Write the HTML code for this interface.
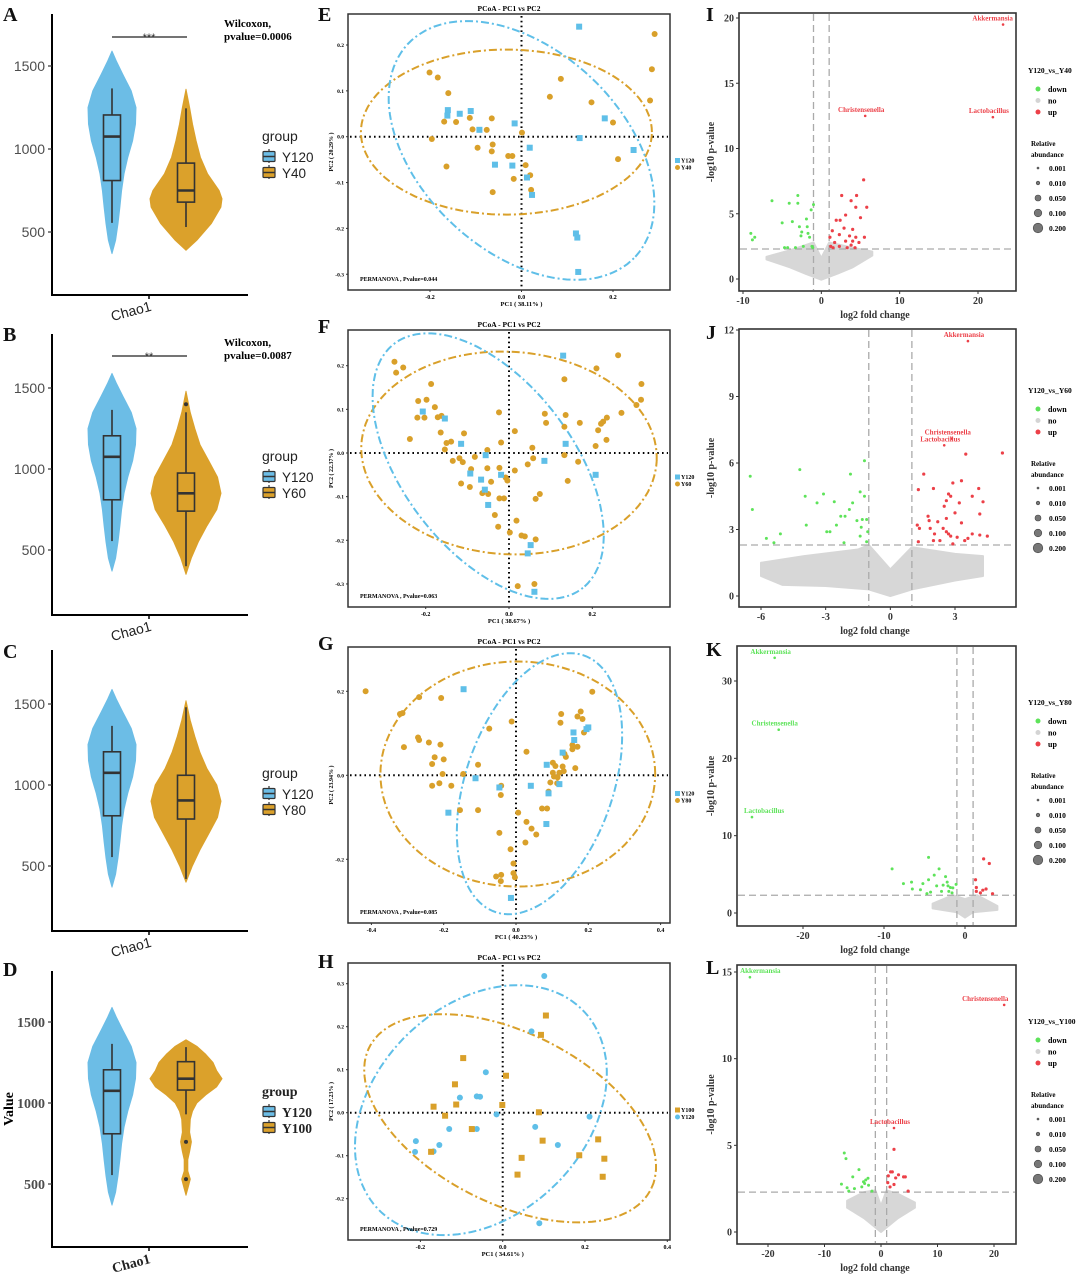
<!DOCTYPE html>
<html><head><meta charset="utf-8"><style>
html,body{margin:0;padding:0;background:#fff;}
svg{display:block;}
</style></head><body>
<svg id="fig" width="1080" height="1277" viewBox="0 0 1080 1277" xmlns="http://www.w3.org/2000/svg"></svg>
<script>
// ===================== DATA =====================
const violinRowTicks = [500, 1000, 1500];
const blueVals = [370,450,550,650,750,850,950,1050,1150,1250,1350,1450,1530,1590];
const blueDens = [0,0.15,0.25,0.33,0.4,0.5,0.66,0.86,0.98,1.0,0.8,0.45,0.18,0];
const blueBox = [555, 810, 1075, 1205, 1365];
const y40Vals = [390,450,550,650,700,750,850,950,1050,1150,1250,1360];
const y40Dens = [0,0.3,0.7,0.97,1,0.92,0.6,0.4,0.28,0.18,0.1,0];
const y40Box = [530, 680, 750, 915, 1245];
const y60Vals = [350,450,550,650,750,850,950,1050,1150,1250,1350,1480];
const y60Dens = [0,0.15,0.35,0.6,0.88,1,0.9,0.65,0.4,0.25,0.12,0];
const y60Box = [400, 740, 850, 975, 1350];
const y60Out = [1400];
const y80Vals = [400,500,600,700,800,900,1000,1100,1200,1300,1400,1520];
const y80Dens = [0,0.18,0.4,0.65,0.9,1,0.88,0.6,0.4,0.25,0.12,0];
const y80Box = [420, 790, 905, 1060, 1480];
const y100Vals = [430,480,530,580,650,700,760,820,900,950,1000,1050,1100,1150,1200,1250,1300,1350,1390];
const y100Dens = [0,0.06,0.12,0.05,0.05,0.1,0.15,0.1,0.12,0.18,0.3,0.55,0.85,1,0.85,0.75,0.55,0.3,0];
const y100Box = [930, 1080, 1150, 1255, 1345];
const y100Out = [760, 530];

const eBlueX = [0.126,-0.161,-0.162,-0.135,-0.111,-0.092,-0.015,0.018,-0.058,-0.02,0.012,0.023,0.127,0.182,0.245,0.119,0.122,0.124];
const eBlueY = [0.24,0.058,0.046,0.05,0.056,0.015,0.029,-0.024,-0.061,-0.063,-0.089,-0.127,-0.003,0.04,-0.029,-0.211,-0.22,-0.295];
const eOrX = [0.291,0.285,0.281,-0.201,-0.183,-0.16,0.062,0.086,0.153,0.2,0.211,-0.169,-0.143,-0.113,-0.107,-0.076,-0.065,-0.196,-0.096,-0.063,-0.065,-0.029,-0.02,-0.164,-0.063,-0.017,0.001,0.009,0.019,0.021];
const eOrY = [0.224,0.147,0.079,0.14,0.129,0.095,0.087,0.126,0.075,0.031,-0.049,0.033,0.032,0.041,0.016,0.015,0.04,-0.005,-0.024,-0.017,-0.032,-0.042,-0.042,-0.065,-0.121,-0.092,0.009,-0.062,-0.084,-0.116];
const fBlueX = [0.130,-0.207,-0.154,-0.115,-0.056,-0.093,-0.067,-0.058,-0.050,-0.019,0.085,0.136,0.208,0.052,0.045,0.061];
const fBlueY = [0.223,0.095,0.079,0.021,-0.005,-0.047,-0.061,-0.084,-0.119,-0.050,-0.018,0.021,-0.050,-0.211,-0.230,-0.318];
const fOrX = [-0.275,-0.254,-0.271,-0.187,0.262,0.210,0.133,0.318,-0.218,-0.198,0.317,0.306,0.270,-0.178,-0.22,-0.203,-0.171,-0.162,-0.024,0.086,0.136,0.089,0.133,0.170,0.214,0.221,0.226,0.235,0.014,-0.164,-0.108,-0.238,-0.150,-0.139,-0.019,-0.154,-0.052,0.056,0.234,0.208,-0.135,-0.119,-0.111,-0.082,-0.052,0.045,0.058,0.133,0.166,-0.091,-0.023,-0.008,-0.004,0.014,-0.043,0.141,-0.115,-0.094,-0.064,-0.050,-0.023,-0.012,0.074,0.064,-0.034,0.018,-0.026,0.002,0.030,0.038,0.064,0.021,0.061];
const fOrY = [0.209,0.196,0.184,0.158,0.224,0.194,0.169,0.158,0.119,0.122,0.122,0.110,0.092,0.105,0.081,0.081,0.082,0.085,0.093,0.090,0.087,0.069,0.060,0.069,0.052,0.067,0.072,0.081,0.050,0.047,0.045,0.032,0.023,0.026,0.024,0.008,0.007,0.012,0.030,0.016,-0.018,-0.012,-0.021,-0.009,-0.035,-0.026,-0.012,-0.005,-0.020,-0.037,-0.034,-0.056,-0.063,-0.040,-0.066,-0.064,-0.070,-0.078,-0.092,-0.094,-0.104,-0.104,-0.094,-0.105,-0.142,-0.155,-0.169,-0.182,-0.189,-0.191,-0.198,-0.305,-0.300];
const gBlueX = [-0.145,-0.112,-0.187,-0.046,0.041,0.085,0.090,0.084,0.120,0.129,0.159,0.161,0.195,0.2,-0.014];
const gBlueY = [0.205,-0.007,-0.089,-0.029,-0.025,0.025,-0.043,-0.116,-0.021,0.054,0.102,0.084,0.110,0.114,-0.292];
const gOrX = [-0.416,-0.268,-0.207,-0.321,-0.314,-0.074,-0.012,-0.271,-0.268,-0.241,-0.209,-0.310,-0.225,-0.200,-0.232,-0.105,-0.203,-0.146,-0.232,-0.212,-0.179,-0.041,-0.042,-0.155,-0.105,0.006,-0.046,0.029,0.043,0.056,0.026,-0.015,-0.007,-0.055,-0.041,-0.042,-0.007,-0.003,0.125,0.123,0.170,0.179,0.184,0.188,0.156,0.156,0.170,0.134,0.138,0.102,0.129,0.102,0.120,0.164,0.095,0.114,0.105,0.090,0.072,0.086,0.211,0.029,0.109,0.115,0.132];
const gOrY = [0.2,0.186,0.184,0.146,0.148,0.111,0.128,0.090,0.084,0.078,0.073,0.067,0.043,0.038,0.027,0.025,0.003,0.003,-0.025,-0.019,-0.025,-0.025,-0.047,-0.083,-0.083,-0.089,-0.137,-0.111,-0.127,-0.141,-0.160,-0.176,-0.210,-0.241,-0.237,-0.252,-0.233,-0.243,0.146,0.125,0.140,0.152,0.134,0.102,0.072,0.062,0.068,0.051,0.044,0.030,0.021,0.006,0.006,0.017,-0.017,-0.019,-0.003,-0.039,-0.079,-0.079,0.199,0.056,0.022,-0.005,0.010];
const hBlueX = [0.101,0.070,-0.041,-0.104,-0.063,-0.055,-0.015,-0.130,-0.063,-0.211,-0.213,-0.168,-0.154,0.079,0.134,0.211,0.089];
const hBlueY = [0.318,0.189,0.094,0.035,0.038,0.037,-0.004,-0.038,-0.038,-0.066,-0.091,-0.090,-0.075,-0.033,-0.075,-0.009,-0.257];
const hOrX = [0.105,0.093,-0.096,0.008,-0.116,-0.113,-0.001,-0.168,-0.140,-0.075,0.088,0.097,0.046,0.036,0.232,0.186,0.247,0.243,-0.174];
const hOrY = [0.226,0.181,0.127,0.086,0.066,0.019,0.018,0.014,-0.007,-0.038,0.001,-0.065,-0.105,-0.144,-0.062,-0.099,-0.107,-0.149,-0.091];

const iDownX = [-9,-8.8,-8.5,-6.3,-5,-4.7,-4.1,-3.7,-3,-3,-2.8,-2.6,-2.5,-1.9,-1.8,-1.7,-1.5,-1.3,-1.2,-1,-1.1,-2.3,-3.3,-4.3];
const iDownY = [3.5,3,3.2,6,4.3,2.4,5.8,4.4,6.4,5.8,4,3.3,3.6,4.6,4,3.5,3.2,5.3,2.5,5.7,2.4,2.5,2.4,2.4];
const iUpX = [2.6,5.4,4.5,3.8,4.4,5.8,3.1,2.4,1.9,5.0,2.9,4.0,1.4,1.1,2.3,3.6,4.4,5.5,1.7,3.1,4.0,1.2,1.5,2.3,3.3,4.3,4.8,3.8];
const iUpY = [6.4,7.6,6.4,6.0,5.5,5.5,4.9,4.5,4.5,4.7,3.9,3.8,3.7,3.2,3.4,3.3,3.2,3.2,2.8,2.9,2.9,2.5,2.4,2.5,2.4,2.4,2.8,2.6];
const iLabelNames = ["Akkermansia","Christensenella","Lactobacillus"];
const iLabelX = [23.2, 5.6, 21.9];
const iLabelY = [19.5, 12.5, 12.4];
const iCloudX = [-7,-4,-1,0,1,4,6.5,6.5,4,2,0,-2,-4,-7];
const iCloudY = [1.7,2.2,2.8,1.6,2.8,2.4,2.1,1.8,0.9,0.4,-0.05,0.4,0.9,1.5];
const jDownX = [-6.5,-6.4,-5.75,-5.1,-5.4,-4.2,-3.95,-3.9,-3.4,-3.1,-2.95,-2.8,-2.6,-2.5,-2.3,-2.1,-2.15,-1.9,-1.85,-1.75,-1.55,-1.4,-1.4,-1.3,-1.2,-1.2,-1.1,-1.05,-1.35,-1.1];
const jDownY = [5.4,3.9,2.6,2.8,2.4,5.7,4.5,3.2,4.2,4.6,2.9,2.9,4.25,3.2,3.6,3.6,2.4,3.9,5.5,4.2,3.4,4.7,2.7,3.45,4.5,6.1,3.45,2.9,3.1,2.45];
const jUpX = [5.2,3.5,1.55,1.3,2.0,2.9,3.3,4.1,2.7,2.8,2.6,2.5,3.2,3.8,4.3,1.75,1.8,2.2,3.0,2.6,3.3,4.15,1.25,1.35,1.85,2.05,2.45,2.6,2.7,2.8,3.1,3.45,3.6,3.8,4.15,4.5,2.0,2.3,2.9,1.3];
const jUpY = [6.45,6.4,5.5,4.8,4.85,5.1,5.2,4.85,4.6,4.5,4.3,4.05,4.2,4.5,4.25,3.6,3.4,3.35,3.75,3.5,3.3,3.7,3.2,3.05,3.05,2.8,3.05,2.9,2.8,2.7,2.65,2.5,2.6,2.8,2.75,2.7,2.5,2.5,2.35,2.45];
const jLabelNames = ["Akkermansia","Christensenella","Lactobacillus"];
const jLabelX = [3.6, 2.85, 2.5];
const jLabelY = [11.5, 7.1, 6.8];
const jCloudX = [-6,-4,-1.5,-1,0,1,3,4.3,4.3,3,1,0,-1,-3,-5,-6];
const jCloudY = [1.5,1.8,2.1,2.3,1.2,2.2,1.9,1.8,0.9,0.7,0.3,0,0.3,0.45,0.5,0.9];
const kDownX = [-9,-7.6,-6.6,-6.5,-5.5,-5.2,-4.5,-4.5,-3.8,-3.2,-4.25,-3.5,-2.7,-2.4,-2.2,-2.1,-2.0,-1.8,-1.5,-1.1,-4.7,-2.9,-1.6];
const kDownY = [5.7,3.8,4.0,3.1,3.0,3.8,7.2,4.3,4.9,5.7,2.7,3.5,3.6,4.7,4.0,3.5,2.8,3.3,3.25,3.7,2.5,2.8,2.6];
const kUpX = [1.4,1.4,1.3,2.3,3.0,2.2,2.6,3.4,1.9];
const kUpY = [3.3,2.8,4.3,7.0,6.4,2.95,3.1,2.5,2.6];
const kLabelNames = ["Akkermansia","Christensenella","Lactobacillus"];
const kLabelX = [-23.5, -23, -26.3];
const kLabelY = [33, 23.7, 12.4];
const kCloudX = [-4,-1.5,0,1.5,4,4,1,0,-1,-4];
const kCloudY = [1.2,2.3,1.8,2.3,0.9,0.4,0.1,-0.6,0.1,0.6];
const lDownX = [-6.5,-6.2,-3.9,-5.0,-7.0,-6.0,-5.7,-4.7,-3.4,-3.1,-2.7,-2.3,-2.9,-2.2,-1.6];
const lDownY = [4.56,4.23,3.6,3.18,2.76,2.55,2.36,2.5,2.6,2.9,3.0,3.1,2.8,2.7,2.36];
const lUpX = [2.3,1.3,1.7,2.0,2.6,3.1,4.0,4.3,1.2,1.6,2.3,4.8];
const lUpY = [4.77,3.24,3.47,3.47,3.12,3.3,3.18,3.18,2.85,2.6,2.74,2.36];
const lLabelNames = ["Akkermansia","Christensenella","Lactobacillus"];
const lLabelX = [-23.2, 21.8, 2.3];
const lLabelY = [14.7, 13.1, 6.0];
const lCloudX = [-6,-3,-1,0,1,3,6,6,3,0,-3,-6];
const lCloudY = [1.8,2.3,2.4,1.5,2.4,2.2,1.7,1.4,0.8,0,0.8,1.4];

// ===================== DRAWING =====================
const NS = "http://www.w3.org/2000/svg";
const svg = document.getElementById('fig');
function el(tag, attrs, parent, text){
  const e = document.createElementNS(NS, tag);
  for (const k in attrs) e.setAttribute(k, attrs[k]);
  if (text !== undefined) e.textContent = text;
  (parent || svg).appendChild(e);
  return e;
}
function lin(v1,p1,v2,p2){ return v => p1 + (v - v1) * (p2 - p1) / (v2 - v1); }
const SERIF = '"Liberation Serif", serif';
const SANS = '"Liberation Sans", sans-serif';
const BLUE = '#6cbde6', ORANGE = '#dba12b';

const letters = [["A",3,21],["B",3,341],["C",3,658],["D",3,976],["E",318,21],["F",318,333],["G",318,650],["H",318,968],["I",706,21],["J",706,339],["K",706,656],["L",706,974]];
letters.forEach(L=>{
  const t = el('text',{x:L[1],y:L[2],'font-family':SERIF,'font-size':20,'font-weight':'bold',fill:'#111'},svg,L[0]);
  
  
});

function violinPanel(cfg){
  const g = el('g',{});
  
  
  const y = lin(1000, cfg.y1000, 1500, cfg.y1500);
  const tickFont = cfg.serif ? SERIF : SANS;
  const ax = el('path',{d:`M52,${cfg.top} L52,${cfg.bottom} L248,${cfg.bottom}`,fill:'none',stroke:'#000','stroke-width':2},g);
  
  
  el('line',{x1:149,x2:149,y1:cfg.bottom,y2:cfg.bottom+4,stroke:'#000','stroke-width':1.5},g);
  violinRowTicks.forEach(v=>{
    el('line',{x1:48,x2:52,y1:y(v),y2:y(v),stroke:'#333','stroke-width':1.2},g);
    const t = el('text',{x:45,y:y(v)+5,'text-anchor':'end','font-family':tickFont,'font-size':14,'font-weight':cfg.serif?'bold':'normal',fill:'#4d4d4d'},g,String(v));
    
    
  });
  const xl = el('text',{x:131,y:cfg.bottom+21,'text-anchor':'middle','font-family':tickFont,'font-size':14,'font-weight':cfg.serif?'bold':'normal',fill:'#222',transform:`rotate(-15 131 ${cfg.bottom+16})`},g,'Chao1');
  
  
  if (cfg.ylab){
    const yl = el('text',{x:13,y:(cfg.top+cfg.bottom)/2,'text-anchor':'middle','font-family':SERIF,'font-size':14,'font-weight':'bold',transform:`rotate(-90 13 ${(cfg.top+cfg.bottom)/2})`},g,'Value');
    
    
  }
  cfg.violins.forEach(vi=>{
    const left=[], right=[];
    vi.vals.forEach((v,i)=>{ const w = vi.dens[i]*vi.maxHalf; left.push([vi.cx-w,y(v)]); right.push([vi.cx+w,y(v)]); });
    const pts = right.concat(left.reverse());
    const p = el('path',{d:'M'+pts.map(p=>p[0].toFixed(1)+','+p[1].toFixed(1)).join(' L')+' Z',fill:vi.color,stroke:vi.color,'stroke-width':1,'stroke-linejoin':'round'},g);
    
    
    const b = vi.box, bw = 8.5;
    el('line',{x1:vi.cx,x2:vi.cx,y1:y(b[0]),y2:y(b[1]),stroke:'#333','stroke-width':1.6},g);
    el('line',{x1:vi.cx,x2:vi.cx,y1:y(b[3]),y2:y(b[4]),stroke:'#333','stroke-width':1.6},g);
    const r = el('rect',{x:vi.cx-bw,y:y(b[3]),width:bw*2,height:y(b[1])-y(b[3]),fill:'none',stroke:'#333','stroke-width':1.6},g);
    
    
    el('line',{x1:vi.cx-bw,x2:vi.cx+bw,y1:y(b[2]),y2:y(b[2]),stroke:'#333','stroke-width':2.6},g);
    (vi.out||[]).forEach(o=>{
      const c = el('circle',{cx:vi.cx,cy:y(o),r:2,fill:'#333'},g);
      
      
    });
  });
  if (cfg.sig){
    el('line',{x1:112,x2:187,y1:cfg.sigY,y2:cfg.sigY,stroke:'#222','stroke-width':1.3},g);
    const s = el('text',{x:149,y:cfg.sigY+4,'text-anchor':'middle','font-family':SANS,'font-size':11,fill:'#333'},g,cfg.sig);
    
    
    const w1 = el('text',{x:224,y:cfg.sigY-10,'font-family':SERIF,'font-size':11,'font-weight':'bold'},g,'Wilcoxon,');
    
    
    const w2 = el('text',{x:224,y:cfg.sigY+3,'font-family':SERIF,'font-size':11,'font-weight':'bold'},g,cfg.pval);
    
    
  }
  const lg = el('g',{},g);
  
  
  const ly = cfg.legY;
  el('text',{x:262,y:ly,'font-family':cfg.serif?SERIF:SANS,'font-size':14,'font-weight':cfg.serif?'bold':'normal',fill:'#222'},lg,'group');
  cfg.violins.forEach((vi,i)=>{
    const yy = ly+9+i*16;
    const e = el('g',{},lg);
    
    
    el('line',{x1:269,x2:269,y1:yy-1,y2:yy+13,stroke:'#333','stroke-width':1.2},e);
    el('rect',{x:263,y:yy+1.5,width:12,height:10,fill:vi.color,stroke:'#333','stroke-width':1.2,rx:1},e);
    el('line',{x1:263,x2:275,y1:yy+6.5,y2:yy+6.5,stroke:'#333','stroke-width':1.5},e);
    el('text',{x:282,y:yy+12,'font-family':cfg.serif?SERIF:SANS,'font-size':13.5,'font-weight':cfg.serif?'bold':'normal',fill:'#222'},e,vi.label);
  });
}
const blueV = ()=>({cx:112,vals:blueVals,dens:blueDens,box:blueBox,maxHalf:24,color:BLUE,label:'Y120'});
violinPanel({name:'violin-panel-a',top:14,bottom:295,y1000:149,y1500:66,sig:'***',sigY:37,pval:'pvalue=0.0006',legY:141,
  violins:[blueV(),{cx:186,vals:y40Vals,dens:y40Dens,box:y40Box,maxHalf:36,color:ORANGE,label:'Y40'}]});
violinPanel({name:'violin-panel-b',top:334,bottom:615,y1000:469,y1500:388,sig:'**',sigY:356,pval:'pvalue=0.0087',legY:461,
  violins:[blueV(),{cx:186,vals:y60Vals,dens:y60Dens,box:y60Box,maxHalf:35,color:ORANGE,label:'Y60',out:y60Out}]});
violinPanel({name:'violin-panel-c',top:650,bottom:931,y1000:785,y1500:704,legY:778,
  violins:[blueV(),{cx:186,vals:y80Vals,dens:y80Dens,box:y80Box,maxHalf:35,color:ORANGE,label:'Y80'}]});
violinPanel({name:'violin-panel-d',top:971,bottom:1247,y1000:1103,y1500:1022,legY:1096,serif:true,ylab:true,
  violins:[blueV(),{cx:186,vals:y100Vals,dens:y100Dens,box:y100Box,maxHalf:36,color:ORANGE,label:'Y100',out:y100Out}]});

function ellipsePts(cx,cy,a,b,angDeg){
  const t = angDeg*Math.PI/180, pts=[];
  for(let i=0;i<=120;i++){ const u=i/120*2*Math.PI; const ex=a*Math.cos(u), ey=b*Math.sin(u);
    pts.push([cx+ex*Math.cos(t)-ey*Math.sin(t), cy+ex*Math.sin(t)+ey*Math.cos(t)]); }
  return pts;
}
function pcoaPanel(cfg){
  const g = el('g',{});
  
  
  const X = lin(0,cfg.x0,0.2,cfg.x2), Y = lin(0,cfg.y0,0.2,cfg.y2);
  const b = cfg.box;
  const f = el('rect',{x:b[0],y:b[2],width:b[1]-b[0],height:b[3]-b[2],fill:'#fff',stroke:'#333','stroke-width':1.5},g);
  
  
  const tt = el('text',{x:(b[0]+b[1])/2,y:b[2]-3,'text-anchor':'middle','font-family':SERIF,'font-size':7.5,'font-weight':'bold'},g,'PCoA - PC1 vs PC2');
  
  
  cfg.xt.forEach(v=>{
    el('line',{x1:X(v),x2:X(v),y1:b[3],y2:b[3]+2,stroke:'#333'},g);
    const t = el('text',{x:X(v),y:b[3]+9,'text-anchor':'middle','font-family':SERIF,'font-size':6,'font-weight':'bold'},g,v.toFixed(1));
    
    
  });
  cfg.yt.forEach(v=>{
    el('line',{x1:b[0]-2,x2:b[0],y1:Y(v),y2:Y(v),stroke:'#333'},g);
    const t = el('text',{x:b[0]-4,y:Y(v)+2,'text-anchor':'end','font-family':SERIF,'font-size':5.5,'font-weight':'bold'},g,v.toFixed(1));
    
    
  });
  const xl = el('text',{x:X(0),y:b[3]+16,'text-anchor':'middle','font-family':SERIF,'font-size':6.5,'font-weight':'bold'},g,cfg.xlab);
  
  
  const yc = (b[2]+b[3])/2;
  const yl = el('text',{x:b[0]-15,y:yc,'text-anchor':'middle','font-family':SERIF,'font-size':6,'font-weight':'bold',transform:`rotate(-90 ${b[0]-15} ${yc})`},g,cfg.ylab);
  
  
  el('line',{x1:X(0),x2:X(0),y1:b[2]+2,y2:b[3]-2,stroke:'#000','stroke-width':2,'stroke-dasharray':'1.6,3.2'},g);
  el('line',{x1:b[0]+2,x2:b[1]-2,y1:Y(0),y2:Y(0),stroke:'#000','stroke-width':2,'stroke-dasharray':'1.6,3.2'},g);
  cfg.groups.forEach(gr=>{
    const pts = ellipsePts(...gr.ell);
    const e = el('path',{d:'M'+pts.map(p=>X(p[0]).toFixed(1)+','+Y(p[1]).toFixed(1)).join(' L'),fill:'none',stroke:gr.color,'stroke-width':2,'stroke-dasharray':'8,3,2,3'},g);
    
    
  });
  cfg.groups.forEach(gr=>{
    gr.xs.forEach((xv,i)=>{
      let m;
      if (gr.shape==='sq') m = el('rect',{x:X(xv)-3,y:Y(gr.ys[i])-3,width:6,height:6,fill:gr.color},g);
      else m = el('circle',{cx:X(xv),cy:Y(gr.ys[i]),r:3,fill:gr.color},g);
      
      
    });
  });
  const pm = el('text',{x:b[0]+12,y:b[3]-9,'font-family':SERIF,'font-size':6,'font-weight':'bold'},g,cfg.perm);
  
  
  const lg = el('g',{},g);
  
  
  cfg.legend.forEach((gr,i)=>{
    const yy = yc+10+i*7;
    if (gr.shape==='sq') el('rect',{x:b[1]+5,y:yy-4,width:5,height:5,fill:gr.color},lg);
    else el('circle',{cx:b[1]+7.5,cy:yy-1.5,r:2.5,fill:gr.color},lg);
    el('text',{x:b[1]+11,y:yy+0.5,'font-family':SERIF,'font-size':6,'font-weight':'bold'},lg,gr.label);
  });
}
const yt6=[-0.3,-0.2,-0.1,0,0.1,0.2];
{
  const bl={label:'Y120',color:'#5fbfe8',shape:'sq',xs:eBlueX,ys:eBlueY,ell:[0,-0.03,0.34,0.22,-43]};
  const or={label:'Y40',color:'#d9a02a',shape:'ci',xs:eOrX,ys:eOrY,ell:[-0.033,0.01,0.318,0.18,0]};
  pcoaPanel({name:'pcoa-panel-e',box:[348,670,14,290],x0:521.5,x2:613,y0:136.7,y2:45,xt:[-0.2,0,0.2],yt:yt6,xlab:'PC1 ( 38.11% )',ylab:'PC2 ( 20.29% )',perm:'PERMANOVA , Pvalue=0.044',groups:[or,bl],legend:[bl,or]});
}
{
  const bl={label:'Y120',color:'#5fbfe8',shape:'sq',xs:fBlueX,ys:fBlueY,ell:[-0.05,-0.03,0.36,0.2,-50]};
  const or={label:'Y60',color:'#d9a02a',shape:'ci',xs:fOrX,ys:fOrY,ell:[0,0,0.355,0.232,-3]};
  pcoaPanel({name:'pcoa-panel-f',box:[348,670,330,607],x0:509,x2:592.3,y0:453,y2:365.7,xt:[-0.2,0,0.2],yt:yt6,xlab:'PC1 ( 38.67% )',ylab:'PC2 ( 22.37% )',perm:'PERMANOVA , Pvalue=0.063',groups:[or,bl],legend:[bl,or]});
}
{
  const bl={label:'Y120',color:'#5fbfe8',shape:'sq',xs:gBlueX,ys:gBlueY,ell:[0.065,-0.02,0.33,0.2,65]};
  const or={label:'Y80',color:'#d9a02a',shape:'ci',xs:gOrX,ys:gOrY,ell:[0.005,0.003,0.38,0.268,0]};
  pcoaPanel({name:'pcoa-panel-g',box:[348,670,647,923],x0:516,x2:588.3,y0:775.3,y2:691.3,xt:[-0.4,-0.2,0,0.2,0.4],yt:[-0.2,0,0.2],xlab:'PC1 ( 40.23% )',ylab:'PC2 ( 23.94% )',perm:'PERMANOVA , Pvalue=0.085',groups:[or,bl],legend:[bl,or]});
}
{
  const bl={label:'Y120',color:'#5fbfe8',shape:'ci',xs:hBlueX,ys:hBlueY,ell:[-0.053,0.006,0.34,0.25,40]};
  const or={label:'Y100',color:'#d9a02a',shape:'sq',xs:hOrX,ys:hOrY,ell:[0.018,-0.013,0.38,0.2,-25]};
  pcoaPanel({name:'pcoa-panel-h',box:[348,670,963,1240],x0:502.7,x2:585,y0:1112.7,y2:1026.7,xt:[-0.2,0,0.2,0.4],yt:[-0.2,-0.1,0,0.1,0.2,0.3],xlab:'PC1 ( 34.61% )',ylab:'PC2 ( 17.23% )',perm:'PERMANOVA , Pvalue=0.729',groups:[bl,or],legend:[or,bl]});
}

const GREEN='#5ee35a', RED='#ec4048', GREY='#d3d3d3';
function volcanoPanel(cfg){
  const g = el('g',{});
  
  
  const X = lin(cfg.xa[0],cfg.xa[1],cfg.xa[2],cfg.xa[3]);
  const Y = lin(cfg.ya[0],cfg.ya[1],cfg.ya[2],cfg.ya[3]);
  const b = cfg.box;
  const f = el('rect',{x:b[0],y:b[2],width:b[1]-b[0],height:b[3]-b[2],fill:'#fff',stroke:'#333','stroke-width':1.6},g);
  
  
  cfg.xt.forEach(v=>{
    el('line',{x1:X(v),x2:X(v),y1:b[3],y2:b[3]+3,stroke:'#333'},g);
    const t = el('text',{x:X(v),y:b[3]+13,'text-anchor':'middle','font-family':SERIF,'font-size':10,'font-weight':'bold',fill:'#333'},g,String(v));
    
    
  });
  cfg.yt.forEach(v=>{
    el('line',{x1:b[0]-3,x2:b[0],y1:Y(v),y2:Y(v),stroke:'#333'},g);
    const t = el('text',{x:b[0]-5,y:Y(v)+3.5,'text-anchor':'end','font-family':SERIF,'font-size':10,'font-weight':'bold',fill:'#333'},g,String(v));
    
    
  });
  const xl = el('text',{x:875,y:b[3]+27,'text-anchor':'middle','font-family':SERIF,'font-size':10,'font-weight':'bold',fill:'#333'},g,'log2 fold change');
  
  
  const yc=(b[2]+b[3])/2;
  const yl = el('text',{x:714,y:yc,'text-anchor':'middle','font-family':SERIF,'font-size':10,'font-weight':'bold',fill:'#333',transform:`rotate(-90 714 ${yc})`},g,'-log10 p-value');
  
  
  const cl = el('path',{d:'M'+cfg.cloudX.map((xv,i)=>X(xv).toFixed(1)+','+Y(cfg.cloudY[i]).toFixed(1)).join(' L')+' Z',fill:GREY,stroke:GREY,'stroke-width':2,'stroke-linejoin':'round',opacity:0.9},g);
  
  
  [-1,1].forEach(v=>el('line',{x1:X(v),x2:X(v),y1:b[2]+1,y2:b[3]-1,stroke:'#aaa','stroke-width':1.3,'stroke-dasharray':'7,4'},g));
  el('line',{x1:b[0]+1,x2:b[1]-1,y1:Y(2.3),y2:Y(2.3),stroke:'#aaa','stroke-width':1.3,'stroke-dasharray':'7,4'},g);
  cfg.downX.forEach((xv,i)=>{
    const c = el('circle',{cx:X(xv),cy:Y(cfg.downY[i]),r:1.5,fill:GREEN},g);
    
    
  });
  cfg.upX.forEach((xv,i)=>{
    const c = el('circle',{cx:X(xv),cy:Y(cfg.upY[i]),r:1.6,fill:RED},g);
    
    
  });
  cfg.labNames.forEach((n,i)=>{
    const px = X(cfg.labX[i]), py = Y(cfg.labY[i]);
    const col = cfg.labX[i] < 0 ? GREEN : RED;
    const c = el('circle',{cx:px,cy:py,r:1.3,fill:col},g);
    
    
    const w = n.length*3.7;
    const tx = Math.max(b[0]+3+w/2, Math.min(b[1]-3-w/2, px-4));
    const t = el('text',{x:tx,y:py-4,'text-anchor':'middle','font-family':SERIF,'font-size':7,'font-weight':'bold',fill:col},g,n);
    
    
  });
  const lg = el('g',{},g);
  
  
  const L = cfg.leg;
  el('text',{x:1028,y:L,'font-family':SERIF,'font-size':7.5,'font-weight':'bold'},lg,cfg.title);
  [['down',GREEN],['no','#d4d4d4'],['up',RED]].forEach((d,i)=>{
    el('circle',{cx:1038,cy:L+16+i*11.5,r:2.5,fill:d[1]},lg);
    el('text',{x:1048,y:L+19+i*11.5,'font-family':SERIF,'font-size':8,'font-weight':'bold'},lg,d[0]);
  });
  el('text',{x:1031,y:L+73,'font-family':SERIF,'font-size':7,'font-weight':'bold'},lg,'Relative');
  el('text',{x:1031,y:L+84,'font-family':SERIF,'font-size':7,'font-weight':'bold'},lg,'abundance');
  [['0.001',1],['0.010',1.8],['0.050',3],['0.100',3.8],['0.200',4.8]].forEach((d,i)=>{
    const yy = L+95+i*15;
    el('circle',{cx:1038,cy:yy,r:d[1],fill:'#777',stroke:'#444','stroke-width':0.6},lg);
    el('text',{x:1049,y:yy+3,'font-family':SERIF,'font-size':7.5,'font-weight':'bold'},lg,d[0]);
  });
}
volcanoPanel({name:'volcano-panel-i',box:[739,1016,13,291],xa:[-10,743,20,978],ya:[0,279,20,18],xt:[-10,0,10,20],yt:[0,5,10,15,20],
  downX:iDownX,downY:iDownY,upX:iUpX,upY:iUpY,labNames:iLabelNames,labX:iLabelX,labY:iLabelY,cloudX:iCloudX,cloudY:iCloudY,title:'Y120_vs_Y40',leg:73});
volcanoPanel({name:'volcano-panel-j',box:[739,1016,329,607],xa:[-6,761,3,955],ya:[0,596,12,330],xt:[-6,-3,0,3],yt:[0,3,6,9,12],
  downX:jDownX,downY:jDownY,upX:jUpX,upY:jUpY,labNames:jLabelNames,labX:jLabelX,labY:jLabelY,cloudX:jCloudX,cloudY:jCloudY,title:'Y120_vs_Y60',leg:393});
volcanoPanel({name:'volcano-panel-k',box:[737,1016,646,926],xa:[-20,803,0,965],ya:[0,913,30,681],xt:[-20,-10,0],yt:[0,10,20,30],
  downX:kDownX,downY:kDownY,upX:kUpX,upY:kUpY,labNames:kLabelNames,labX:kLabelX,labY:kLabelY,cloudX:kCloudX,cloudY:kCloudY,title:'Y120_vs_Y80',leg:705});
volcanoPanel({name:'volcano-panel-l',box:[737,1016,965,1244],xa:[-20,768,20,994],ya:[0,1232,15,972],xt:[-20,-10,0,10,20],yt:[0,5,10,15],
  downX:lDownX,downY:lDownY,upX:lUpX,upY:lUpY,labNames:lLabelNames,labX:lLabelX,labY:lLabelY,cloudX:lCloudX,cloudY:lCloudY,title:'Y120_vs_Y100',leg:1024});
</script>
</body></html>
